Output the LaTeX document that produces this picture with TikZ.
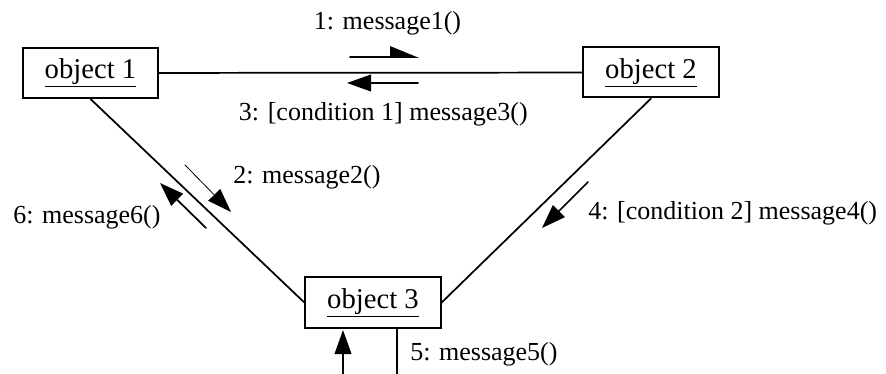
\documentclass[tikz,border=0pt]{standalone}
\usepackage{fontspec}
\setmainfont{Liberation Serif}
\usepackage{tikz}
\usetikzlibrary{arrows.meta}
\tikzstyle{every node}=[font=\fontsize{19.5}{23}\selectfont]
\tikzstyle{objbox}=[draw,line width=1.5pt,line cap=butt,line join=miter,minimum width=101.5pt,minimum height=37.5pt,inner sep=0pt,font=\fontsize{21.5}{25}\selectfont]
\tikzstyle{msglabel}=[inner sep=0pt]
\tikzstyle{link}=[line width=1.3pt]

\begin{document}
\begin{tikzpicture}[line cap=round,line join=round,>={Triangle[length=18pt,width=12.5pt]},x=0.75pt,y=-0.75pt]
                \useasboundingbox (0,0) rectangle (886,374);
                \node [objbox] (obj1) at (90.5,73) {\underline{object 1}};
                \node [objbox] (obj2) at (651,72.5) {\underline{object 2}};
                \node [objbox] (obj3) at (373,302.5) {\underline{object 3}};
                \draw [link] (obj1) -- (obj2);
                \draw [link] (obj1.south) -- (obj3.west);
                \draw [link] (obj2.south) -- (obj3.east);
                \coordinate (m1from) at (350,57);
                \coordinate (m1to) at (419,57);
                \coordinate (m3from) at (418,83);
                \coordinate (m3to) at (347,83);
                \coordinate (m2from) at (185,165);
                \coordinate (m2to) at (231,212);
                \coordinate (m6from) at (206,228);
                \coordinate (m6to) at (160,183);
                \coordinate (m4from) at (588,182);
                \coordinate (m4to) at (542,228);
                \coordinate (m5from) at (343,374);
                \coordinate (m5to) at (343,330);
                \coordinate (out5) at (397,374);
                \draw [link] (obj3.south -| out5) -- (out5);
                \draw [-{Triangle[left,length=20pt,width=16pt]},link] (m1from) -- (m1to);
                \draw [->,link] (m3from) -- (m3to);
                \draw [->,line width=0.6pt] (m2from) -- (m2to);
                \draw [->,link] (m6from) -- (m6to);
                \draw [->,link] (m4from) -- (m4to);
                \draw [->,link] (m5from) -- (m5to);
                \node [msglabel] (lab1) at (387.5,23) {1: message1()};
                \node [msglabel,anchor=east] (lab3) at (528,114) {3: [condition 1] message3()};
                \node [msglabel,anchor=west] (lab2) at (233,177) {2: message2()};
                \node [msglabel,anchor=west] (lab6) at (13,217) {6: message6()};
                \node [msglabel,anchor=west] (lab4) at (588,213) {4: [condition 2] message4()};
                \node [msglabel,anchor=west] (lab5) at (410,354) {5: message5()};
            \end{tikzpicture}
\end{document}
